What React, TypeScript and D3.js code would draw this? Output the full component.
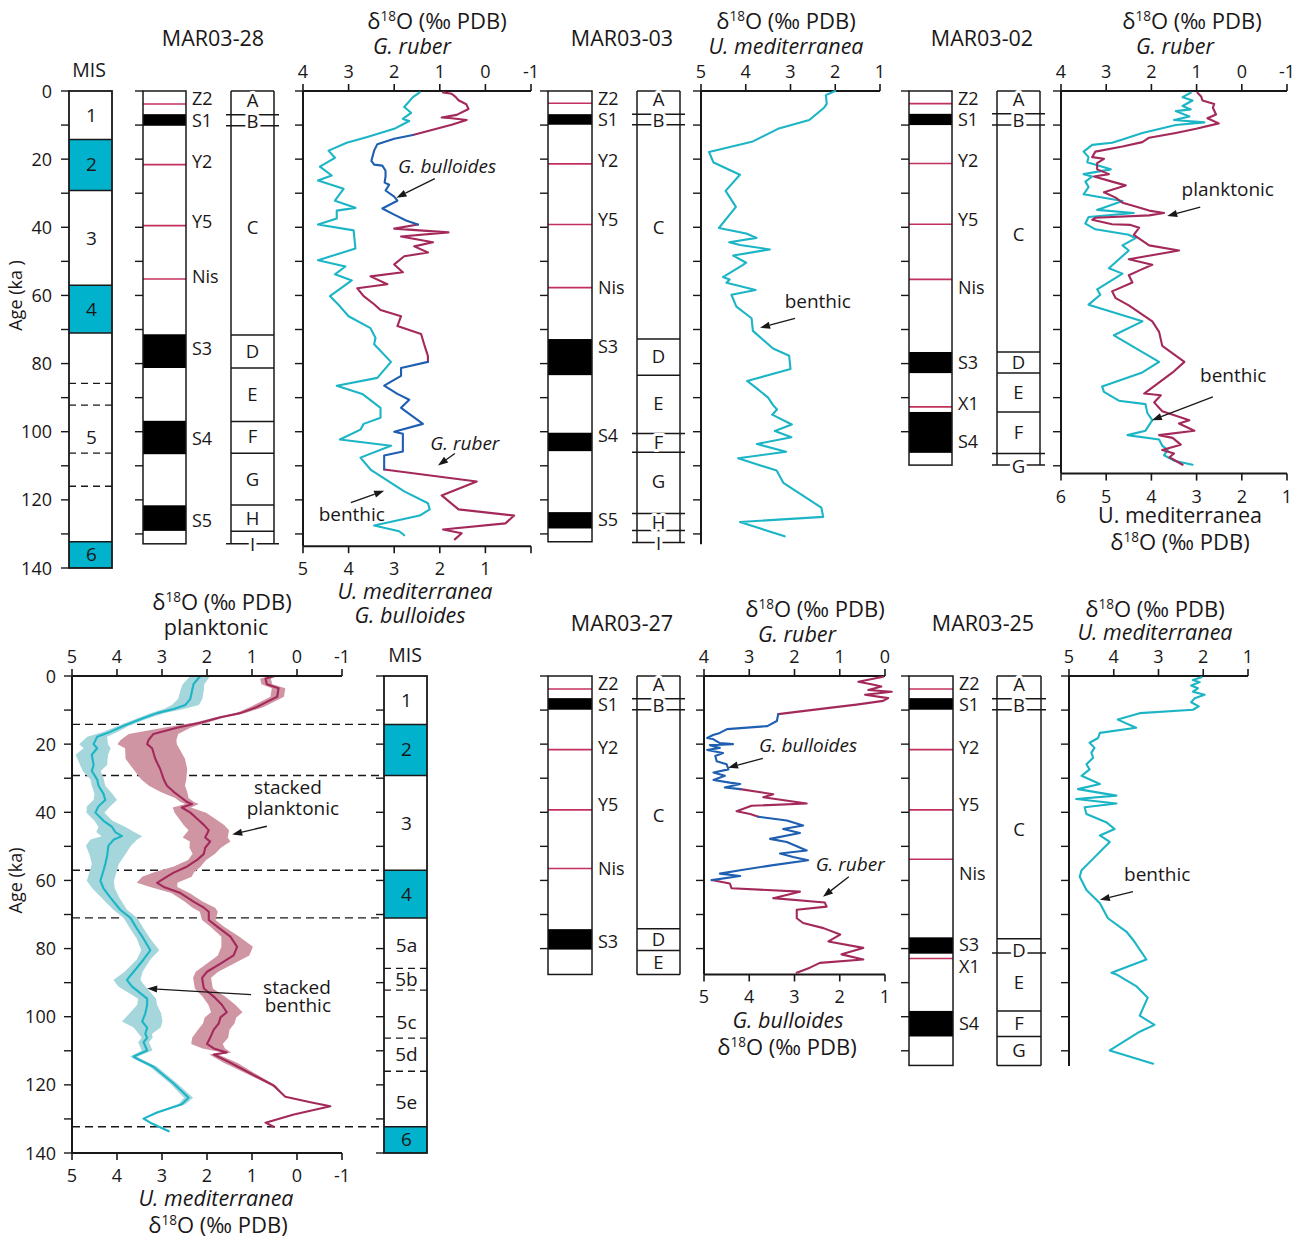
import React from "react";
import * as d3 from "d3";

type Pt = [number, number]; // [age (ka), δ18O (‰)]
type Lab = [string, number]; // [text, age (ka)]

// ---------- Marine isotope stages ----------
const MIS_GLACIAL: [number, number][] = [[14.2, 29.2], [57, 71], [132.3, 140]];
const MIS_BOUNDS = [14.2, 29.2, 57, 71, 132.3];
const MIS5_SUB_BOUNDS = [85.8, 92.2, 106.3, 116];
const MIS_LABELS_A: Lab[] = [["1", 7], ["2", 21.5], ["3", 43], ["4", 64], ["5", 101.5], ["6", 136]];
const MIS_LABELS_B: Lab[] = [["1", 7], ["2", 21.5], ["3", 43], ["4", 64], ["5a", 79], ["5b", 89], ["5c", 101.5], ["5d", 111], ["5e", 125], ["6", 136]];

// ---------- MAR03-28 ----------
const C28_BASE = 132.9;
const C28_SAPROPEL: [number, number][] = [[6.8, 10.2], [71.4, 81.3], [96.8, 106.6], [121.6, 129.1]];
const C28_TEPHRA = [3.8, 21.6, 39.5, 55.2];
const C28_LAYER_LABELS: Lab[] = [["Z2", 2.4], ["S1", 8.7], ["Y2", 20.8], ["Y5", 38.3], ["Nis", 54.6], ["S3", 75.6], ["S4", 102], ["S5", 126]];
const C28_UNIT_BOUNDS = [0, 7, 10.2, 71.6, 81.3, 97, 106.3, 121.5, 129.2, 132.9];
const C28_UNIT_TICKED = [7, 10.2, 132.9];
const C28_UNITS: Lab[] = [["A", 2.7], ["B", 8.8], ["C", 40], ["D", 76.5], ["E", 89], ["F", 101.5], ["G", 113.9], ["H", 125.3], ["I", 133.2]];
const C28_BENTHIC: Pt[] = [[0.4, 2.44], [1.8, 2.59], [4.7, 2.78], [6.4, 2.63], [8.2, 2.81], [8.8, 2.67], [11.1, 3.0], [13.5, 3.59], [15.2, 4.04], [17.5, 4.44], [19.6, 4.3], [22.2, 4.63], [24.8, 4.37], [26.3, 4.67], [28.7, 4.11], [32.2, 4.3], [34.3, 3.85], [35.1, 4.26], [37.4, 4.26], [39.2, 4.67], [40.9, 3.89], [46.2, 3.85], [49.7, 4.67], [51.5, 4.07], [53.8, 4.3], [55.6, 3.93], [60.2, 4.41], [63.2, 4.19], [66.1, 4.0], [69.6, 3.52], [72.5, 3.41], [74.3, 3.44], [79.5, 3.07], [84.2, 3.37], [86.5, 4.26], [88.9, 3.7], [93, 3.3], [95.9, 3.3], [97.7, 3.67], [99.4, 3.74], [102.3, 4.19], [104.1, 3.07], [107.6, 3.74], [111.1, 3.52], [117.5, 2.78], [121, 2.26], [122.8, 2.22], [124.6, 2.44], [127.5, 3.44], [129.2, 2.89], [130.4, 2.78]];
const C28_RUBER_1: Pt[] = [[0.4, 0.93], [0.8, 0.74], [1.8, 0.65], [2.7, 0.59], [3.9, 0.42], [5.3, 0.37], [7, 0.63], [7.8, 0.96], [8, 0.74], [8.5, 0.41], [9.9, 0.74], [12.9, 1.59]];
const C28_BULL_1: Pt[] = [[12.9, 2.59], [14, 3.0], [15.6, 3.37], [17.5, 3.44], [20.5, 3.5], [21.6, 3.44], [21.9, 3.26], [23.4, 3.19], [25.1, 3.19], [26.9, 3.21], [27.5, 3.11], [29.2, 3.19], [31, 3.0], [32.2, 2.93], [34.5, 3.26], [36.3, 3.0], [38, 2.74], [39.2, 2.48]];
const C28_RUBER_2: Pt[] = [[39.2, 1.48], [40.4, 2.0], [41.5, 0.81], [42.7, 1.85], [44.4, 1.15], [45.6, 1.56], [47.4, 1.26], [48.5, 1.78], [50.9, 2.0], [53.2, 1.81], [54.4, 2.52], [56.7, 2.15], [57.9, 2.81], [60.2, 2.67], [62.6, 2.44], [64.3, 2.3], [66.1, 1.85], [69, 1.93], [71.3, 1.41], [74.9, 1.33], [77.8, 1.26], [79.5, 1.26]];
const C28_BULL_2: Pt[] = [[79.5, 2.26], [81.3, 2.85], [83.6, 2.85], [86.5, 3.22], [88.9, 2.93], [90.6, 2.67], [93, 2.85], [97.7, 2.37], [100, 3.0], [100.6, 2.81], [105.8, 2.81], [107, 3.22], [111.1, 3.22]];
const C28_RUBER_3: Pt[] = [[111.1, 2.22], [114.6, 0.19], [118.7, 0.96], [122.8, 0.59], [124.6, -0.63], [126.9, -0.44], [128.7, 0.93], [129.8, 0.52], [131.6, 0.67]];

// ---------- MAR03-03 ----------
const C03_BASE = 132.3;
const C03_SAPROPEL: [number, number][] = [[6.8, 9.9], [72.8, 83.4], [100.3, 105.7], [123.6, 128.4]];
const C03_TEPHRA = [3.6, 21.4, 39.2, 57.7];
const C03_LAYER_LABELS: Lab[] = [["Z2", 2.3], ["S1", 8.5], ["Y2", 20.5], ["Y5", 37.9], ["Nis", 57.7], ["S3", 75], ["S4", 101.3], ["S5", 125.7]];
const C03_UNIT_BOUNDS = [0, 6.8, 9.9, 72.8, 83.4, 100.5, 106, 124, 129, 132.5];
const C03_UNIT_TICKED = [6.8, 9.9, 100.5, 106, 124, 129, 132.5];
const C03_UNITS: Lab[] = [["A", 2.6], ["B", 8.6], ["C", 40], ["D", 78], ["E", 91.8], ["F", 103.2], ["G", 114.5], ["H", 126.5], ["I", 132.9]];
const C03_BENTHIC: Pt[] = [[0, 2.0], [1.2, 2.21], [3.8, 2.19], [4.9, 2.25], [8.5, 2.58], [11.1, 3.28], [14.8, 3.84], [17.9, 4.82], [21, 4.72], [24.6, 4.13], [29.3, 4.45], [34, 4.22], [40.2, 4.6], [41.8, 3.99], [43.1, 3.76], [44.4, 4.37], [45.2, 4.13], [46.5, 3.46], [48.3, 4.28], [50.4, 3.99], [51.1, 4.07], [54.6, 4.51], [55.3, 4.36], [56.3, 4.43], [58.4, 3.78], [59.8, 4.32], [63.3, 4.21], [66.7, 3.87], [70.4, 3.84], [75.6, 3.39], [77.7, 3.03], [81.6, 3.0], [85.1, 3.97], [87.2, 3.76], [90, 3.5], [92.2, 3.39], [93.5, 3.3], [95, 3.41], [97.9, 2.97], [99.8, 3.35], [101.6, 2.98], [103.6, 3.75], [105.9, 3.1], [107.8, 4.17], [111.4, 3.31], [115, 3.16], [122.3, 2.31], [125, 2.27], [126.5, 4.13], [130.7, 3.13]];

// ---------- MAR03-02 ----------
const C02_BASE = 109.8;
const C02_SAPROPEL: [number, number][] = [[6.7, 10], [76.6, 82.8], [94.2, 106.2]];
const C02_TEPHRA = [3.7, 21.3, 39.1, 55.3, 92.7];
const C02_LAYER_LABELS: Lab[] = [["Z2", 2.3], ["S1", 8.5], ["Y2", 20.6], ["Y5", 37.8], ["Nis", 57.7], ["S3", 79.7], ["X1", 91.9], ["S4", 102.8]];
const C02_UNIT_BOUNDS = [0, 6.7, 10, 76.6, 82.8, 94.2, 106.4, 109.8];
const C02_UNIT_TICKED = [6.7, 10, 106.4, 109.8];
const C02_UNITS: Lab[] = [["A", 2.6], ["B", 8.6], ["C", 42], ["D", 79.7], ["E", 88.5], ["F", 100.3], ["G", 110.2]];
const C02_RUBER: Pt[] = [[0.5, 0.98], [1.6, 0.9], [2.8, 0.87], [3.8, 0.61], [4.9, 0.64], [6.9, 0.57], [8, 0.76], [9.5, 0.51], [11.1, 1.01], [12.3, 1.46], [13.7, 2.05], [15, 2.2], [16.3, 2.64], [17.8, 3.24], [19.4, 3.31], [19.9, 3.05], [21.2, 3.2], [23, 3.2], [24.4, 2.94], [25.1, 3.27], [26.6, 2.87], [27.7, 2.57], [29.7, 3.05], [31.3, 2.79], [32.8, 2.64], [33.9, 2.35], [35.1, 2.05], [35.8, 1.72], [36.5, 2.05], [37.2, 3.24], [37.8, 3.31], [39.1, 2.87], [39.3, 2.46], [40.1, 2.27], [42.2, 2.39], [45.3, 2.05], [46.8, 1.39], [49.4, 2.5], [51, 1.98], [52.5, 2.24], [54.1, 2.5], [56.2, 2.42], [58.8, 2.87], [60.8, 2.79], [62.9, 2.5], [67.6, 1.98], [70.7, 1.83], [74.8, 1.76], [79.5, 1.27], [82.6, 1.53], [88.8, 2.16], [89.3, 1.79], [91.4, 1.94], [94, 1.76], [96.6, 1.16], [97.6, 1.39], [99.7, 1.05], [101, 1.83], [101.8, 1.53], [103.8, 1.35], [105.4, 1.76], [106.4, 1.5], [107.5, 1.6], [109.7, 1.31]];
const C02_BENTHIC: Pt[] = [[0.5, 3.13], [1.8, 3.31], [2.8, 3.09], [4.4, 3.31], [5.4, 3.13], [5.9, 3.46], [7.5, 3.16], [8.5, 3.5], [9.2, 2.83], [10, 3.46], [12.3, 4.2], [14.2, 4.64], [15.2, 4.87], [15.8, 5.31], [17.8, 5.5], [19.4, 5.39], [20.9, 5.42], [23, 4.9], [24.4, 5.5], [25.1, 5.31], [26.6, 5.46], [28.2, 5.39], [30.3, 5.5], [32.3, 4.64], [34.9, 5.2], [35.8, 4.39], [37, 5.39], [38.9, 5.46], [40.6, 5.24], [42.2, 4.5], [43.2, 4.35], [45.3, 4.64], [46.8, 4.5], [52, 4.94], [53.6, 4.64], [58.2, 5.2], [59.8, 5.13], [62.7, 5.39], [67.6, 4.2], [71.7, 4.83], [79.5, 3.83], [82.6, 4.2], [86.7, 5.09], [88.3, 5.05], [90.9, 4.72], [91.9, 4.13], [94.5, 4.09], [96.6, 3.98], [99.7, 4.13], [101, 4.53], [102.3, 3.83], [104.1, 3.76], [105.4, 3.64], [106.9, 3.72], [108.5, 3.5], [109.7, 3.09]];

// ---------- Stacked records ----------
// [age, mean, half-width of envelope]
const STACK_BENTHIC: [number, number, number][] = [[0, 2.15, 0.22], [2.4, 2.3, 0.24], [4.2, 2.33, 0.26], [6.7, 2.37, 0.27], [8.5, 2.48, 0.3], [9.7, 2.74, 0.22], [10.9, 3.11, 0.15], [12.7, 3.48, 0.12], [14.6, 3.85, 0.12], [16.4, 4.15, 0.16], [17.8, 4.44, 0.22], [20, 4.52, 0.32], [21.2, 4.44, 0.3], [23.1, 4.56, 0.36], [26.1, 4.52, 0.3], [27.9, 4.56, 0.2], [30.4, 4.44, 0.15], [32.2, 4.41, 0.15], [34.6, 4.3, 0.2], [36.4, 4.26, 0.26], [38.2, 4.41, 0.26], [40.1, 4.48, 0.2], [42.5, 4.3, 0.2], [44.3, 4.11, 0.3], [45.8, 4.04, 0.42], [47, 3.89, 0.45], [48, 4.07, 0.52], [49.8, 4.19, 0.5], [52.8, 4.22, 0.38], [55.2, 4.26, 0.3], [57.1, 4.3, 0.3], [60.1, 4.37, 0.3], [62.3, 4.3, 0.25], [65, 4.15, 0.2], [68.6, 3.93, 0.15], [71, 3.7, 0.15], [74.1, 3.56, 0.15], [77.1, 3.41, 0.15], [80.5, 3.26, 0.2], [83.2, 3.41, 0.15], [86.8, 3.63, 0.2], [89.2, 3.78, 0.3], [91.1, 3.67, 0.3], [94.7, 3.33, 0.2], [96.5, 3.33, 0.22], [99, 3.37, 0.35], [101.4, 3.44, 0.45], [103.2, 3.33, 0.3], [105, 3.37, 0.15], [106.2, 3.33, 0.12], [107.5, 3.41, 0.12], [109.9, 3.33, 0.12], [111.7, 3.63, 0.08], [112.3, 3.56, 0.08], [114.7, 3.19, 0.08], [119.6, 2.74, 0.08], [123.8, 2.41, 0.1], [125.7, 2.56, 0.08], [128.1, 3.11, 0.05], [129.9, 3.41, 0.03], [131.1, 3.26, 0], [133.6, 2.85, 0]];
const STACK_PLANKTONIC: [number, number, number][] = [[0, 0.52, 0.1], [0.8, 0.7, 0.12], [2.4, 0.67, 0.12], [3.6, 0.41, 0.15], [6.1, 0.44, 0.15], [7.6, 0.67, 0.15], [9.1, 0.89, 0.15], [10.9, 1.26, 0.1], [12.1, 1.7, 0.1], [13.7, 2.15, 0.15], [15.2, 2.67, 0.3], [17, 3.19, 0.55], [18.8, 3.3, 0.62], [20, 3.33, 0.66], [21.2, 3.22, 0.6], [24.3, 3.15, 0.66], [27.3, 3.04, 0.6], [30.4, 2.96, 0.5], [32.2, 2.89, 0.4], [34, 2.74, 0.3], [35.8, 2.56, 0.15], [37, 2.44, 0.15], [37.6, 2.33, 0.15], [38.6, 2.56, 0.2], [40.1, 2.37, 0.35], [41.9, 2.22, 0.4], [43.7, 2.07, 0.45], [45.3, 1.96, 0.45], [47.4, 2.04, 0.5], [48.6, 1.93, 0.45], [50.4, 2.04, 0.35], [52.2, 2.07, 0.25], [54, 2.22, 0.2], [55.9, 2.44, 0.3], [57.7, 2.74, 0.45], [58.9, 2.89, 0.55], [60.7, 3.11, 0.45], [61.9, 2.96, 0.3], [63.7, 2.59, 0.2], [66.2, 2.3, 0.2], [68, 2.07, 0.25], [69.2, 1.96, 0.2], [71.6, 1.96, 0.15], [73.5, 1.78, 0.15], [76.5, 1.48, 0.2], [79.5, 1.33, 0.35], [82, 1.41, 0.35], [84.4, 1.7, 0.3], [86.8, 2.0, 0.25], [88.6, 2.11, 0.2], [91.7, 2.07, 0.2], [94.1, 1.85, 0.25], [96.5, 1.67, 0.3], [98.7, 1.56, 0.35], [100.2, 1.7, 0.35], [102, 1.74, 0.35], [103.8, 1.85, 0.35], [106.2, 1.93, 0.4], [108, 2.0, 0.35], [109.3, 1.85, 0.25], [110.5, 1.56, 0.1], [111.1, 1.85, 0.1], [113.5, 1.48, 0.15], [116.6, 1.04, 0.1], [120.2, 0.52, 0.05], [123.5, 0.26, 0], [125.1, -0.3, 0], [126.3, -0.74, 0], [128.7, 0.07, 0], [131.1, 0.7, 0], [132.3, 0.52, 0]];

// ---------- MAR03-27 ----------
const C27_BASE = 87.6;
const C27_SAPROPEL: [number, number][] = [[6.5, 9.9], [74.3, 80.3]];
const C27_TEPHRA = [3.8, 21.6, 39.3, 56.5];
const C27_LAYER_LABELS: Lab[] = [["Z2", 2.2], ["S1", 8.4], ["Y2", 20.9], ["Y5", 37.9], ["Nis", 56.5], ["S3", 77.9]];
const C27_UNIT_BOUNDS = [0, 6.7, 9.9, 74.2, 80.6, 87.6];
const C27_UNIT_TICKED = [6.7, 9.9];
const C27_UNITS: Lab[] = [["A", 2.5], ["B", 8.5], ["C", 41], ["D", 77.4], ["E", 84]];
const C27_RUBER_1: Pt[] = [[0.2, 0.04], [1.7, 0.59], [2.4, 0.3], [3.1, 0.08], [4.1, 0.37], [4.6, -0.15], [5.5, 0.44], [6.5, -0.07], [7.3, 0.04], [8.4, 0.63], [9.2, 1.14], [11.2, 2.36]];
const C27_BULL_1: Pt[] = [[11.2, 3.36], [13.2, 3.39], [14.7, 3.6], [15.6, 4.49], [16.7, 4.65], [17.3, 4.8], [18.2, 4.93], [18.5, 4.8], [19.7, 4.65], [20, 4.36], [20.3, 4.87], [21.1, 4.65], [21.7, 4.93], [22.6, 4.58], [23.5, 4.75], [25, 4.72], [25.9, 4.5], [27.4, 4.46], [28.3, 4.79], [29.3, 4.54], [30.5, 4.79], [31.3, 4.43], [31.7, 4.2], [32.7, 4.54], [33.2, 4.2]];
const C27_RUBER_2: Pt[] = [[33.2, 3.2], [34.7, 2.47], [35.6, 2.69], [37.4, 1.73], [38.1, 2.95], [39.7, 3.28], [40.5, 2.98], [41.3, 2.8]];
const C27_BULL_2: Pt[] = [[41.3, 3.8], [42.4, 3.17], [43.9, 2.81], [44.9, 3.25], [46.1, 2.88], [47.8, 3.54], [48.7, 3.17], [51.2, 2.73], [52.1, 3.32], [53.1, 3.03], [54.1, 2.7], [55.5, 3.47], [57, 4.2], [58, 4.65], [58.7, 4.2], [59.9, 4.83]];
const C27_RUBER_3: Pt[] = [[59.9, 3.83], [60.9, 3.43], [62.3, 3.39], [63.3, 1.88], [65.2, 2.47], [66.5, 1.33], [67.7, 1.29], [68.6, 1.95], [71.1, 1.95], [72.5, 1.81], [74, 1.36], [75.9, 0.99], [77.9, 1.25], [79.8, 0.48], [81.7, 0.96], [83.2, 0.48], [84.2, 1.44], [85.6, 1.66], [87.1, 1.95]];

// ---------- MAR03-25 ----------
const C25_BASE = 114.3;
const C25_SAPROPEL: [number, number][] = [[6.5, 9.9], [76.7, 81.5], [98.3, 105.8]];
const C25_TEPHRA = [3.8, 21.6, 39.3, 53.8, 82.9];
const C25_LAYER_LABELS: Lab[] = [["Z2", 2.2], ["S1", 8.4], ["Y2", 20.9], ["Y5", 37.8], ["Nis", 58], ["S3", 78.8], ["X1", 85.2], ["S4", 102.1]];
const C25_UNIT_BOUNDS = [0, 6.7, 9.9, 77.1, 81.3, 98.3, 105.8, 114.3];
const C25_UNIT_TICKED = [6.7, 9.9, 81.3];
const C25_UNITS: Lab[] = [["A", 2.5], ["B", 8.5], ["C", 45], ["D", 80.6], ["E", 90], ["F", 102], ["G", 110]];
const C25_BENTHIC: Pt[] = [[0.4, 2.04], [1.2, 2.23], [1.8, 2.08], [2.8, 2.27], [3.6, 2.12], [4.6, 2.23], [5.5, 1.97], [6.5, 2.19], [7.7, 2.27], [8.9, 2.1], [9.9, 2.23], [10.9, 3.42], [12.8, 3.91], [15.2, 3.5], [16.7, 4.31], [18.2, 4.35], [19.6, 4.54], [21.1, 4.43], [22.5, 4.5], [24, 4.46], [25.9, 4.61], [27.4, 4.54], [29.3, 4.72], [31.7, 4.31], [33.2, 4.8], [35.1, 3.94], [36.1, 4.84], [37.4, 3.94], [38.5, 4.65], [40.5, 4.61], [42.9, 4.17], [44.9, 3.98], [46.8, 4.31], [48.7, 4.09], [51.2, 4.28], [53.6, 4.46], [57, 4.72], [58.9, 4.76], [62.8, 4.61], [66.7, 4.31], [71.1, 4.13], [75, 3.72], [77.4, 3.57], [83.2, 3.27], [87.1, 4.05], [87.6, 3.94], [91, 3.5], [94.4, 3.24], [99.7, 3.42], [102.4, 3.09], [104.4, 3.42], [109.9, 4.09], [113.8, 3.12]];

// ---------- drawing constants ----------
const FONT = "'Open Sans', 'Noto Sans', 'DejaVu Sans', sans-serif";
const INK = "#1a1718";
const CYAN = "#1bb5c6";
const MAGENTA = "#a4295b";
const BLUE = "#1e5fb2";
const MIS_FILL = "#00b2cc";
const TEPHRA = "#c3305d";
const BAND_CYAN = "#a5d6dc";
const BAND_PINK = "#cf95a3";

const yTop = d3.scaleLinear().domain([0, 140]).range([91, 568]);
const yBot = d3.scaleLinear().domain([0, 140]).range([676, 1153]);

type Sc = d3.ScaleLinear<number, number>;

function Curve({ data, x, y, color }: { data: Pt[]; x: Sc; y: Sc; color: string }) {
  const gen = d3.line<Pt>().x((d) => x(d[1])).y((d) => y(d[0]));
  return <path d={gen(data) || ""} fill="none" stroke={color} strokeWidth={2.1} strokeLinejoin="round" strokeLinecap="round" />;
}

function Envelope({ data, x, y, fill }: { data: [number, number, number][]; x: Sc; y: Sc; fill: string }) {
  const pts = data.filter((d, i) => d[2] > 0 || (i > 0 && data[i - 1][2] > 0));
  const gen = d3
    .area<[number, number, number]>()
    .y((d) => y(d[0]))
    .x0((d) => x(d[1] - d[2]))
    .x1((d) => x(d[1] + d[2]));
  return <path d={gen(pts) || ""} fill={fill} stroke="none" />;
}

function Delta({ x, y, size = 22 }: { x: number; y: number; size?: number }) {
  return (
    <text x={x} y={y} fontSize={size} textAnchor="middle">
      δ<tspan dy={-size * 0.38} fontSize={size * 0.62}>18</tspan>
      <tspan dy={size * 0.38}>O (‰ PDB)</tspan>
    </text>
  );
}

function T({ x, y, s = 18, a = "middle", it = false, children }: { x: number; y: number; s?: number; a?: string; it?: boolean; children: React.ReactNode }) {
  return (
    <text x={x} y={y} fontSize={s} textAnchor={a as any} fontStyle={it ? "italic" : "normal"}>
      {children}
    </text>
  );
}

function AgeTicks({ x, y, maxAge, len = 8 }: { x: number; y: Sc; maxAge: number; len?: number }) {
  return (
    <g stroke={INK} strokeWidth={1.4}>
      {d3.range(0, maxAge + 0.01, 10).map((a) => (
        <line key={a} x1={x - len} x2={x} y1={y(a)} y2={y(a)} />
      ))}
    </g>
  );
}

function AgeLabels({ x, y, maxAge }: { x: number; y: Sc; maxAge: number }) {
  return (
    <g>
      {d3.range(0, maxAge + 0.01, 20).map((a) => (
        <text key={a} x={x} y={y(a) + 6.5} fontSize={18} textAnchor="end">
          {a}
        </text>
      ))}
    </g>
  );
}

function HAxis({ scale, y, ticks, labels, dir }: { scale: Sc; y: number; ticks: number[]; labels: number[]; dir: -1 | 1 }) {
  const r = scale.range();
  return (
    <g>
      <line x1={Math.min(...r)} x2={Math.max(...r)} y1={y} y2={y} stroke={INK} strokeWidth={2} />
      {ticks.map((t) => (
        <line key={"t" + t} x1={scale(t)} x2={scale(t)} y1={y} y2={y + dir * 7} stroke={INK} strokeWidth={1.6} />
      ))}
      {labels.map((t) => (
        <text key={"l" + t} x={scale(t)} y={dir < 0 ? y - 13 : y + 29} fontSize={18} textAnchor="middle">
          {t}
        </text>
      ))}
    </g>
  );
}

function LithoColumn({ x0, x1, y, base, sapropel, tephra, labels }: { x0: number; x1: number; y: Sc; base: number; sapropel: [number, number][]; tephra: number[]; labels: Lab[] }) {
  return (
    <g>
      <AgeTicks x={x0} y={y} maxAge={base} />
      {sapropel.map(([a, b], i) => (
        <rect key={i} x={x0} y={y(a)} width={x1 - x0} height={y(b) - y(a)} fill="#000" />
      ))}
      {tephra.map((a, i) => (
        <line key={i} x1={x0} x2={x1} y1={y(a)} y2={y(a)} stroke={TEPHRA} strokeWidth={1.6} />
      ))}
      <rect x={x0} y={y(0)} width={x1 - x0} height={y(base) - y(0)} fill="none" stroke={INK} strokeWidth={1.5} />
      {labels.map(([t, a]) => (
        <text key={t} x={x1 + 6} y={y(a) + 6.3} fontSize={18}>
          {t}
        </text>
      ))}
    </g>
  );
}

function UnitColumn({ x0, x1, y, bounds, ticked, units }: { x0: number; x1: number; y: Sc; bounds: number[]; ticked: number[]; units: Lab[] }) {
  const top = bounds[0];
  const bot = bounds[bounds.length - 1];
  return (
    <g>
      <line x1={x0} x2={x0} y1={y(top)} y2={y(bot)} stroke={INK} strokeWidth={1.5} />
      <line x1={x1} x2={x1} y1={y(top)} y2={y(bot)} stroke={INK} strokeWidth={1.5} />
      {bounds.map((b) => {
        const ext = ticked.includes(b) ? 5 : 0;
        return <line key={b} x1={x0 - ext} x2={x1 + ext} y1={y(b)} y2={y(b)} stroke={INK} strokeWidth={1.5} />;
      })}
      {units.map(([t, a]) => (
        <text key={t} x={(x0 + x1) / 2} y={y(a) + 6.6} fontSize={18.5} textAnchor="middle" stroke="#fff" strokeWidth={6} paintOrder="stroke" strokeLinejoin="round">
          {t}
        </text>
      ))}
    </g>
  );
}

function MisColumn({ x0, x1, y, labels }: { x0: number; x1: number; y: Sc; labels: Lab[] }) {
  return (
    <g>
      <AgeTicks x={x0} y={y} maxAge={140} />
      {MIS_GLACIAL.map(([a, b], i) => (
        <rect key={i} x={x0} y={y(a)} width={x1 - x0} height={y(b) - y(a)} fill={MIS_FILL} />
      ))}
      {MIS_BOUNDS.map((a) => (
        <line key={a} x1={x0} x2={x1} y1={y(a)} y2={y(a)} stroke={INK} strokeWidth={1.5} />
      ))}
      {MIS5_SUB_BOUNDS.map((a) => (
        <line key={a} x1={x0} x2={x1} y1={y(a)} y2={y(a)} stroke={INK} strokeWidth={1.3} strokeDasharray="7 5" />
      ))}
      <rect x={x0} y={y(0)} width={x1 - x0} height={y(140) - y(0)} fill="none" stroke={INK} strokeWidth={1.8} />
      {labels.map(([t, a]) => (
        <text key={t} x={(x0 + x1) / 2 + 1} y={y(a) + 7} fontSize={19} textAnchor="middle">
          {t}
        </text>
      ))}
    </g>
  );
}

function Arrow({ x1, y1, x2, y2 }: { x1: number; y1: number; x2: number; y2: number }) {
  const ang = Math.atan2(y2 - y1, x2 - x1);
  const L = 10;
  const w = 3.6;
  const bx = x2 - L * Math.cos(ang);
  const by = y2 - L * Math.sin(ang);
  const px = -Math.sin(ang) * w;
  const py = Math.cos(ang) * w;
  return (
    <g>
      <line x1={x1} y1={y1} x2={bx} y2={by} stroke={INK} strokeWidth={1.3} />
      <path d={`M${x2},${y2}L${bx + px},${by + py}L${bx - px},${by - py}Z`} fill={INK} />
    </g>
  );
}

function VAxis({ x, y, a0, a1, tickMax }: { x: number; y: Sc; a0: number; a1: number; tickMax: number }) {
  return (
    <g>
      <line x1={x} x2={x} y1={y(a0)} y2={y(a1)} stroke={INK} strokeWidth={2} />
      <AgeTicks x={x} y={y} maxAge={tickMax} />
    </g>
  );
}

export default function App() {
  // MAR03-28 δ18O scales
  const x28r = d3.scaleLinear().domain([4, -1]).range([303, 531]);
  const x28b = d3.scaleLinear().domain([5, 0]).range([303, 531]);
  // MAR03-03
  const x03 = d3.scaleLinear().domain([5, 1]).range([701, 880]);
  // MAR03-02
  const x02r = d3.scaleLinear().domain([4, -1]).range([1061, 1287]);
  const x02b = d3.scaleLinear().domain([6, 1]).range([1061, 1287]);
  // stacked
  const xs = d3.scaleLinear().domain([5, -1]).range([72, 342]);
  // MAR03-27
  const x27r = d3.scaleLinear().domain([4, 0]).range([704, 885]);
  const x27b = d3.scaleLinear().domain([5, 1]).range([704, 885]);
  // MAR03-25
  const x25 = d3.scaleLinear().domain([5, 1]).range([1069, 1248]);

  const ax28Bottom = yTop(133.6);
  const ax02Bottom = yTop(112.3);
  const ax27Bottom = yBot(87.6);

  return (
    <svg width={1302} height={1242} viewBox="0 0 1302 1242" style={{ position: "absolute", left: 0, top: 0, background: "#fff" }} fontFamily={FONT} fill={INK}>
      <rect width={1302} height={1242} fill="#fff" />

      {/* ===== top row: MIS ===== */}
      <T x={89} y={77} s={19.5}>MIS</T>
      <MisColumn x0={69} x1={112} y={yTop} labels={MIS_LABELS_A} />
      <AgeLabels x={52} y={yTop} maxAge={140} />
      <text transform={`translate(22,${yTop(60)}) rotate(-90)`} fontSize={18} textAnchor="middle">Age (ka )</text>

      {/* ===== MAR03-28 ===== */}
      <T x={213} y={46} s={21.5}>MAR03-28</T>
      <LithoColumn x0={143} x1={186} y={yTop} base={C28_BASE} sapropel={C28_SAPROPEL} tephra={C28_TEPHRA} labels={C28_LAYER_LABELS} />
      <UnitColumn x0={231} x1={274} y={yTop} bounds={C28_UNIT_BOUNDS} ticked={C28_UNIT_TICKED} units={C28_UNITS} />
      <Delta x={437} y={29} />
      <T x={412} y={54} s={21.5} it>G. ruber</T>
      <VAxis x={303} y={yTop} a0={0} a1={133.6} tickMax={130} />
      <HAxis scale={x28r} y={yTop(0)} ticks={[4, 3, 2, 1, 0, -1]} labels={[4, 3, 2, 1, 0, -1]} dir={-1} />
      <HAxis scale={x28b} y={ax28Bottom} ticks={[5, 4, 3, 2, 1, 0]} labels={[5, 4, 3, 2, 1]} dir={1} />
      <T x={415} y={599} s={21.5} it>U. mediterranea</T>
      <T x={410} y={623} s={21.5} it>G. bulloides</T>
      <Curve data={C28_BENTHIC} x={x28b} y={yTop} color={CYAN} />
      <Curve data={C28_RUBER_1} x={x28r} y={yTop} color={MAGENTA} />
      <Curve data={C28_RUBER_2} x={x28r} y={yTop} color={MAGENTA} />
      <Curve data={C28_RUBER_3} x={x28r} y={yTop} color={MAGENTA} />
      <Curve data={C28_BULL_1} x={x28b} y={yTop} color={BLUE} />
      <Curve data={C28_BULL_2} x={x28b} y={yTop} color={BLUE} />
      <T x={x28r(0.84)} y={yTop(22.2) + 6} s={19} it>G. bulloides</T>
      <Arrow x1={x28r(1.11)} y1={yTop(25.7)} x2={x28r(1.95)} y2={yTop(31.3)} />
      <T x={x28r(0.45)} y={yTop(103.5) + 6} s={19} it>G. ruber</T>
      <Arrow x1={x28r(0.67)} y1={yTop(106.4)} x2={x28r(1.04)} y2={yTop(109.9)} />
      <T x={x28r(2.93)} y={yTop(124.3) + 6} s={19}>benthic</T>
      <Arrow x1={x28r(2.95)} y1={yTop(120.8)} x2={x28r(2.22)} y2={yTop(117.3)} />

      {/* ===== MAR03-03 ===== */}
      <T x={622} y={46} s={21.5}>MAR03-03</T>
      <LithoColumn x0={548} x1={592} y={yTop} base={C03_BASE} sapropel={C03_SAPROPEL} tephra={C03_TEPHRA} labels={C03_LAYER_LABELS} />
      <UnitColumn x0={637} x1={680} y={yTop} bounds={C03_UNIT_BOUNDS} ticked={C03_UNIT_TICKED} units={C03_UNITS} />
      <Delta x={786} y={29} />
      <T x={786} y={54} s={21.5} it>U. mediterranea</T>
      <VAxis x={701} y={yTop} a0={0} a1={133} tickMax={130} />
      <HAxis scale={x03} y={yTop(0)} ticks={[5, 4, 3, 2, 1]} labels={[5, 4, 3, 2, 1]} dir={-1} />
      <Curve data={C03_BENTHIC} x={x03} y={yTop} color={CYAN} />
      <T x={x03(2.39)} y={yTop(62) + 6} s={19}>benthic</T>
      <Arrow x1={x03(2.9)} y1={yTop(66.7)} x2={x03(3.68)} y2={yTop(69.5)} />

      {/* ===== MAR03-02 ===== */}
      <T x={982} y={46} s={21.5}>MAR03-02</T>
      <LithoColumn x0={909} x1={952} y={yTop} base={C02_BASE} sapropel={C02_SAPROPEL} tephra={C02_TEPHRA} labels={C02_LAYER_LABELS} />
      <UnitColumn x0={997} x1={1040} y={yTop} bounds={C02_UNIT_BOUNDS} ticked={C02_UNIT_TICKED} units={C02_UNITS} />
      <Delta x={1192} y={29} />
      <T x={1175} y={54} s={21.5} it>G. ruber</T>
      <VAxis x={1061} y={yTop} a0={0} a1={112.3} tickMax={110} />
      <HAxis scale={x02r} y={yTop(0)} ticks={[4, 3, 2, 1, 0, -1]} labels={[4, 3, 2, 1, 0, -1]} dir={-1} />
      <HAxis scale={x02b} y={ax02Bottom} ticks={[6, 5, 4, 3, 2, 1]} labels={[6, 5, 4, 3, 2, 1]} dir={1} />
      <T x={1180} y={523} s={21.5}>U. mediterranea</T>
      <Delta x={1180} y={550} />
      <Curve data={C02_BENTHIC} x={x02b} y={yTop} color={CYAN} />
      <Curve data={C02_RUBER} x={x02r} y={yTop} color={MAGENTA} />
      <T x={x02r(0.31)} y={yTop(29.2) + 6} s={19}>planktonic</T>
      <Arrow x1={x02r(0.92)} y1={yTop(34.1)} x2={x02r(1.65)} y2={yTop(36.7)} />
      <T x={x02r(0.19)} y={yTop(83.6) + 6} s={19}>benthic</T>
      <Arrow x1={x02r(0.64)} y1={yTop(89.8)} x2={x02r(1.99)} y2={yTop(96.6)} />

      {/* ===== bottom row: stacked records ===== */}
      <Delta x={222} y={610} />
      <T x={216} y={635} s={21.5}>planktonic</T>
      <AgeLabels x={56} y={yBot} maxAge={140} />
      <text transform={`translate(22,${yBot(60)}) rotate(-90)`} fontSize={18} textAnchor="middle">Age (ka)</text>
      {MIS_BOUNDS.map((a) => (
        <line key={a} x1={72} x2={384} y1={yBot(a)} y2={yBot(a)} stroke={INK} strokeWidth={1.4} strokeDasharray="8 5" />
      ))}
      <Envelope data={STACK_BENTHIC} x={xs} y={yBot} fill={BAND_CYAN} />
      <Envelope data={STACK_PLANKTONIC} x={xs} y={yBot} fill={BAND_PINK} />
      <Curve data={STACK_BENTHIC.map((d) => [d[0], d[1]] as Pt)} x={xs} y={yBot} color={CYAN} />
      <Curve data={STACK_PLANKTONIC.map((d) => [d[0], d[1]] as Pt)} x={xs} y={yBot} color={MAGENTA} />
      <VAxis x={72} y={yBot} a0={0} a1={140} tickMax={140} />
      <HAxis scale={xs} y={yBot(0)} ticks={[5, 4, 3, 2, 1, 0, -1]} labels={[5, 4, 3, 2, 1, 0, -1]} dir={-1} />
      <HAxis scale={xs} y={yBot(140)} ticks={[5, 4, 3, 2, 1, 0, -1]} labels={[5, 4, 3, 2, 1, 0, -1]} dir={1} />
      <T x={216} y={1206} s={21.5} it>U. mediterranea</T>
      <Delta x={218} y={1233} />
      <T x={xs(0.2)} y={yBot(32.8) + 6} s={19}>stacked</T>
      <T x={xs(0.09)} y={yBot(39.1) + 6} s={19}>planktonic</T>
      <Arrow x1={xs(0.67)} y1={yBot(44.1)} x2={xs(1.44)} y2={yBot(46.5)} />
      <T x={xs(0.0)} y={yBot(91.7) + 6} s={19}>stacked</T>
      <T x={xs(-0.02)} y={yBot(96.9) + 6} s={19}>benthic</T>
      <Arrow x1={xs(1.02)} y1={yBot(93.5)} x2={xs(3.33)} y2={yBot(91.7)} />
      <T x={405} y={662} s={19.5}>MIS</T>
      <MisColumn x0={384} x1={427} y={yBot} labels={MIS_LABELS_B} />

      {/* ===== MAR03-27 ===== */}
      <T x={622} y={631} s={21.5}>MAR03-27</T>
      <LithoColumn x0={548} x1={592} y={yBot} base={C27_BASE} sapropel={C27_SAPROPEL} tephra={C27_TEPHRA} labels={C27_LAYER_LABELS} />
      <UnitColumn x0={637} x1={680} y={yBot} bounds={C27_UNIT_BOUNDS} ticked={C27_UNIT_TICKED} units={C27_UNITS} />
      <Delta x={815} y={617} />
      <T x={797} y={642} s={21.5} it>G. ruber</T>
      <VAxis x={704} y={yBot} a0={0} a1={87.6} tickMax={80} />
      <HAxis scale={x27r} y={yBot(0)} ticks={[4, 3, 2, 1, 0]} labels={[4, 3, 2, 1, 0]} dir={-1} />
      <HAxis scale={x27b} y={ax27Bottom} ticks={[5, 4, 3, 2, 1]} labels={[5, 4, 3, 2, 1]} dir={1} />
      <T x={788} y={1028} s={21.5} it>G. bulloides</T>
      <Delta x={787} y={1055} />
      <Curve data={C27_RUBER_1} x={x27r} y={yBot} color={MAGENTA} />
      <Curve data={C27_RUBER_2} x={x27r} y={yBot} color={MAGENTA} />
      <Curve data={C27_RUBER_3} x={x27r} y={yBot} color={MAGENTA} />
      <Curve data={C27_BULL_1} x={x27b} y={yBot} color={BLUE} />
      <Curve data={C27_BULL_2} x={x27b} y={yBot} color={BLUE} />
      <T x={x27r(1.7)} y={yBot(20.4) + 6} s={19} it>G. bulloides</T>
      <Arrow x1={x27r(2.7)} y1={yBot(24.2)} x2={x27r(3.47)} y2={yBot(26.9)} />
      <T x={x27r(0.77)} y={yBot(55.5) + 6} s={19} it>G. ruber</T>
      <Arrow x1={x27r(0.8)} y1={yBot(58.9)} x2={x27r(1.37)} y2={yBot(64.8)} />

      {/* ===== MAR03-25 ===== */}
      <T x={983} y={631} s={21.5}>MAR03-25</T>
      <LithoColumn x0={909} x1={953} y={yBot} base={C25_BASE} sapropel={C25_SAPROPEL} tephra={C25_TEPHRA} labels={C25_LAYER_LABELS} />
      <UnitColumn x0={997} x1={1041} y={yBot} bounds={C25_UNIT_BOUNDS} ticked={C25_UNIT_TICKED} units={C25_UNITS} />
      <Delta x={1155} y={617} />
      <T x={1155} y={640} s={21.5} it>U. mediterranea</T>
      <VAxis x={1069} y={yBot} a0={0} a1={114.5} tickMax={110} />
      <HAxis scale={x25} y={yBot(0)} ticks={[5, 4, 3, 2, 1]} labels={[5, 4, 3, 2, 1]} dir={-1} />
      <Curve data={C25_BENTHIC} x={x25} y={yBot} color={CYAN} />
      <T x={x25(3.03)} y={yBot(58.4) + 6} s={19}>benthic</T>
      <Arrow x1={x25(3.57)} y1={yBot(63.3)} x2={x25(4.31)} y2={yBot(65.7)} />
    </svg>
  );
}
